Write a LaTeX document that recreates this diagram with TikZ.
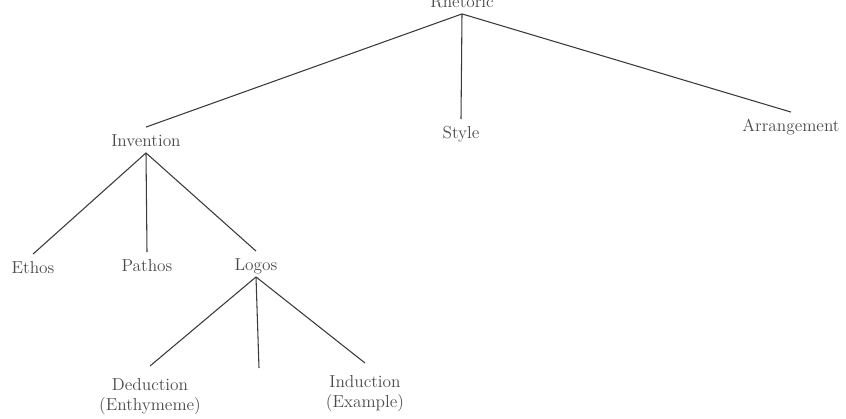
\documentclass[tikz,border=0pt]{standalone}
\usepackage{tikz}
\usepackage{xcolor}
\usetikzlibrary{positioning}
\definecolor{ScanInk}{HTML}{4A4A4A}
\definecolor{ScanLine}{HTML}{3A3A3A}

\tikzset{
    term/.style={font=\fontsize{13}{15}\selectfont, text=ScanInk, anchor=base,
        text height=9pt, text depth=0pt, inner xsep=1pt, inner ysep=5pt},
    leaf/.style={font=\fontsize{13}{15}\selectfont, text=ScanInk, anchor=north,
        align=center, inner xsep=1pt, inner ysep=9pt},
    branch/.style={ScanLine, line width=0.8pt}
}

\begin{document}
\begin{tikzpicture}[x=0.75pt, y=-0.75pt]
    \useasboundingbox (0,0) rectangle (846,418);

    % Top level
    \node[term] (rhetoric) at (462,7) {Rhetoric};

    % Canons
    \node[term] (invention) at (146,146) {Invention};
    \node[term] (style) at (461,138) {Style};
    \node[term] (arrangement) at (791,131) {Arrangement};

    \draw[branch] (rhetoric.south) -- (invention.north);
    \draw[branch] (rhetoric.south) -- (style.north);
    \draw[branch] (rhetoric.south) -- (arrangement.north);

    % Modes of proof
    \node[term] (ethos) at (33,273) {Ethos};
    \node[term] (pathos) at (147,271) {Pathos};
    \node[term] (logos) at (256,270) {Logos};

    \foreach \mode in {ethos, pathos, logos} {
        \draw[branch] (invention.south) -- (\mode.north);
    }

    % Kinds of reasoning
    \node[leaf] (deduction) at (150,366) {Deduction\\(Enthymeme)};
    \node[leaf] (induction) at (365,363) {Induction\\(Example)};
    \coordinate (logosmid) at (259,368);

    \draw[branch] (logos.south) -- (deduction.north);
    \draw[branch] (logos.south) -- (logosmid);
    \draw[branch] (logos.south) -- (induction.north);

\end{tikzpicture}
\end{document}
